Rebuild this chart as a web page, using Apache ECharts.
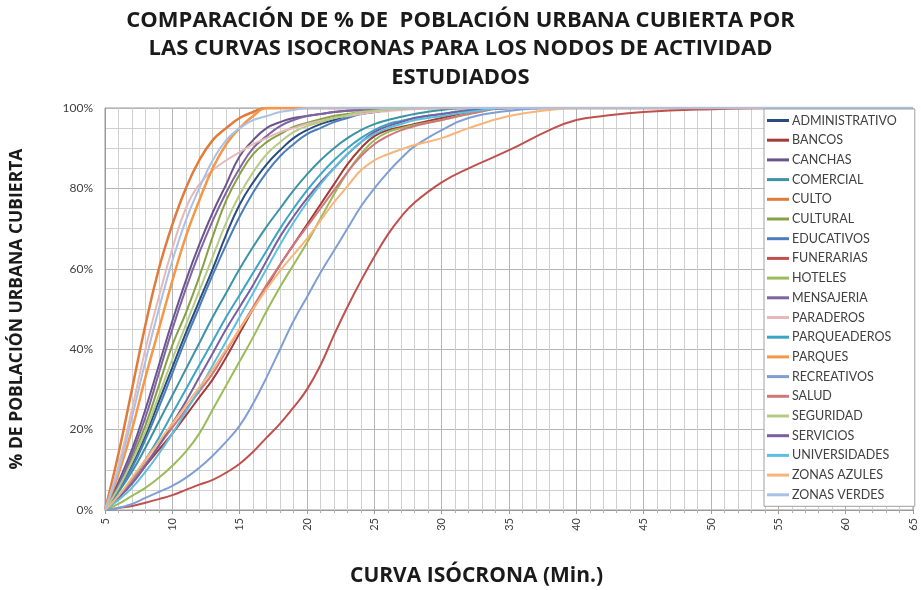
<!DOCTYPE html>
<html>
<head>
<meta charset="utf-8">
<script src="https://cdn.jsdelivr.net/npm/echarts@6/dist/echarts.min.js"></script>
<style>
  html, body { margin: 0; padding: 0; background: #fff; }
  #chart { width: 921px; height: 590px; }
</style>
</head>
<body>
<div id="chart"></div>
<script>
// minutos de la curva isócrona
var minutos = [5,6,7,8,9,10,11,12,13,14,15,16,17,18,19,20,21,22,23,24,25,26,27,28,
               30,32,35,38,40,42,45,50,55,60,65];

// % de población urbana cubierta (5..28, luego 30..65)
var administrativo = [0,5,11,18.5,27,35.5,44,52,60,68.5, 76,81.5,86,89.5,92.5,94.5,96,97,98,98.5, 99,99.5,99.8,100,
                      100,100,100,100,100,100,100,100,100,100,100];
var bancos = [0,3,7,11,15,19,23.5,28,32.5,38, 44,50,55.5,61,66,71,76,81,86,90, 93,94.5,95.3,96,
              97.5,99,100,100,100,100,100,100,100,100,100];
var canchas = [0,7,15,25,36,47,57,66,74,81, 88,92,95,96.5,97.5,98,98.5,99,99.3,99.5, 99.7,100,100,100,
               100,100,100,100,100,100,100,100,100,100,100];
var comercial = [0,4.5,9.5,15.5,22,28.5,35,41.5,48,54, 60,65.5,70.5,75,79.5,83.5,87,90,92.5,94.5, 96,97,97.8,98.5,
                 99.5,100,100,100,100,100,100,100,100,100,100];
var culto = [0,14,30,46,60,71,80,87,92,95, 97.5,99,100,100,100,100,100,100,100,100, 100,100,100,100,
             100,100,100,100,100,100,100,100,100,100,100];
var cultural = [0,6,13,21,31,41,49,58,68,77, 83.5,88.5,91.5,93.5,95.3,96.3,97.2,98,98.5,99, 99.3,99.6,99.8,100,
                100,100,100,100,100,100,100,100,100,100,100];
var educativos = [0,5,10.5,17.5,25.5,34,42.5,50.5,58.5,66, 73,79,84,88,91,93.5,95,96.5,97.5,98.5, 99,99.5,99.8,100,
                  100,100,100,100,100,100,100,100,100,100,100];
var funerarias = [0,0.5,1,1.8,2.7,3.7,5,6.3,7.5,9.3, 11.5,14.5,18,21.5,25.5,30,36,43.5,50.5,57, 63,68.5,73,76.5,
                  81.5,85,89.5,94.5,97,98,99,99.7,100,100,100];
var hoteles = [0,1.5,3.5,5.5,8,11,14.5,19,25,31, 37,43,49.5,55.5,61,66.5,72.5,78.5,84,88.5, 92,94,95,95.8,
               97,98.5,100,100,100,100,100,100,100,100,100];
var mensajeria = [0,6,14,23,34,45,55,64,72,79, 85,90,93,95.5,97,98,98.5,99,99.3,99.5, 99.7,100,100,100,
                  100,100,100,100,100,100,100,100,100,100,100];
var paraderos = [0,11,25,40,53,65,75,81,84.5,87, 89,91,92.5,94,95,96,96.8,97.5,98,98.5, 99,99.2,99.5,99.7,
                 100,100,100,100,100,100,100,100,100,100,100];
var parqueaderos = [0,3.5,7.5,12.5,18,24,30,36,42,48, 53.5,59,64.5,70,75,79.5,83.5,87,90,92.5, 94.5,96,96.8,97.5,
                    98.5,99.5,100,100,100,100,100,100,100,100,100];
var parques = [0,9,20,33,45,57,68,77,85,91, 95,98,100,100,100,100,100,100,100,100, 100,100,100,100,
               100,100,100,100,100,100,100,100,100,100,100];
var recreativos = [0,0.5,1.5,3,4.5,6,8,10.5,13.5,17, 21,26.5,33,40,47,53,59,64.5,70,75.5, 80,84,87.5,90.5,
                   94.5,97.5,99.3,100,100,100,100,100,100,100,100];
var salud = [0,3,7,11.5,16,20.5,25,29.5,34,39.5, 45,50.5,56,61,66,70.5,75,79.5,84,88, 91,93,94.5,95.5,
             97,98.5,100,100,100,100,100,100,100,100,100];
var seguridad = [0,5.5,12,19.5,28.5,37.5,46,54.5,63,71.5, 78.5,84,88.5,91.5,94,95.5,96.5,97.5,98.2,99, 99.3,99.6,99.8,100,
                 100,100,100,100,100,100,100,100,100,100,100];
var servicios = [0,3,6.5,11,16,21.5,27,33,39,45, 50.5,56,62,68,73,77.5,81.5,85,88.5,91.5, 94,95.5,96.5,97.5,
                 98.5,99.3,100,100,100,100,100,100,100,100,100];
var universidades = [0,2.5,5.5,9.5,14,19,24.5,30,36,42, 48,54,60,66,71.5,76.5,81,85,88.5,91.5, 93.5,95,96,97,
                     98,99,100,100,100,100,100,100,100,100,100];
var zonasAzules = [0,3.5,8,12.5,17,21.5,26,30.5,35,40, 45,50,55,59.5,63.5,67.5,72,76.5,80.5,84.5, 87,88.5,89.7,90.8,
                   92.5,95,98,99.5,100,100,100,100,100,100,100];
var zonasVerdes = [0,10,23,37,50,62,72,80,87,92, 95,97,98,99,99.5,100,100,100,100,100, 100,100,100,100,
                   100,100,100,100,100,100,100,100,100,100,100];

var nombres = ['ADMINISTRATIVO','BANCOS','CANCHAS','COMERCIAL','CULTO','CULTURAL','EDUCATIVOS',
  'FUNERARIAS','HOTELES','MENSAJERIA','PARADEROS','PARQUEADEROS','PARQUES','RECREATIVOS',
  'SALUD','SEGURIDAD','SERVICIOS','UNIVERSIDADES','ZONAS AZULES','ZONAS VERDES'];
var valores = [administrativo, bancos, canchas, comercial, culto, cultural, educativos,
  funerarias, hoteles, mensajeria, paraderos, parqueaderos, parques, recreativos,
  salud, seguridad, servicios, universidades, zonasAzules, zonasVerdes];
var colores = ['#2A4D7F','#A33B38','#6A548E','#3C93A6','#E07B39','#86A044','#4A7EBB',
  '#C0504D','#9BBB59','#8064A2','#E6B9B8','#3BA5C4','#F79646','#7F9FD3',
  '#D0777A','#B6CB83','#7A5FA0','#5BC0DE','#F9B47A','#A9C1E6'];

var fuente = 'Lato, "Liberation Sans", sans-serif';
var fuenteTitulo = '"Open Sans", Lato, sans-serif';

var series = nombres.map(function (n, i) {
  return {
    name: n,
    type: 'line',
    symbol: 'none',
    smooth: 0.45,
    lineStyle: { width: (n === 'CULTO' || n === 'PARQUES') ? 2.5 : 2 },
    data: minutos.map(function (m, j) { return [m, valores[i][j]]; })
  };
});

var chart = echarts.init(document.getElementById('chart'));
chart.setOption({
  animation: false,
  backgroundColor: '#fff',
  color: colores,
  title: {
    text: 'COMPARACIÓN DE % DE  POBLACIÓN URBANA CUBIERTA POR\nLAS CURVAS ISOCRONAS PARA LOS NODOS DE ACTIVIDAD\nESTUDIADOS',
    left: 'center',
    top: 1,
    textStyle: { fontFamily: fuenteTitulo, fontSize: 22, fontWeight: 'bold', color: '#1a1a1a', lineHeight: 28.5 }
  },
  grid: { left: 104, right: 8, top: 108, bottom: 80, show: true, borderColor: '#9a9a9a', borderWidth: 1 },
  legend: {
    orient: 'vertical',
    left: 764,
    top: 109,
    icon: 'rect',
    itemWidth: 22,
    itemHeight: 3,
    itemGap: 6.7,
    padding: [5, 18, 5, 3],
    backgroundColor: '#fff',
    borderColor: '#a0a0a0',
    borderWidth: 1,
    textStyle: { fontFamily: fuente, fontSize: 12.5, color: '#404040', padding: [0, 0, 0, -2] },
    data: nombres
  },
  xAxis: {
    type: 'value',
    min: 5,
    max: 65,
    interval: 5,
    axisLine: { lineStyle: { color: '#9a9a9a' } },
    axisTick: { show: true, length: 4, lineStyle: { color: '#9a9a9a' } },
    minorTick: { show: true, splitNumber: 5, length: 3, lineStyle: { color: '#b0b0b0' } },
    axisLabel: { rotate: 90, fontFamily: fuente, fontSize: 11, color: '#404040', margin: 8 },
    splitLine: { show: true, lineStyle: { color: '#b4b4b4' } },
    minorSplitLine: { show: true, lineStyle: { color: '#cfcfcf' } }
  },
  yAxis: {
    type: 'value',
    min: 0,
    max: 100,
    interval: 20,
    name: '% DE POBLACIÓN URBANA CUBIERTA',
    nameLocation: 'middle',
    nameRotate: 90,
    nameGap: 79,
    nameTextStyle: { fontFamily: fuenteTitulo, fontSize: 17.5, fontWeight: 'bold', color: '#1a1a1a' },
    axisLine: { show: true, lineStyle: { color: '#9a9a9a' } },
    axisTick: { show: false },
    axisLabel: { formatter: '{value}%', fontFamily: fuente, fontSize: 12, color: '#404040', margin: 12 },
    splitLine: { show: true, lineStyle: { color: '#b4b4b4' } },
    minorTick: { show: false, splitNumber: 4 },
    minorSplitLine: { show: true, lineStyle: { color: '#cfcfcf' } }
  },
  graphic: [{
    type: 'text',
    left: 350,
    top: 566,
    style: { text: 'CURVA ISÓCRONA (Min.)', fontFamily: fuenteTitulo, fontSize: 21, fontWeight: 'bold', fill: '#1a1a1a' }
  }],
  series: series
});
</script>
</body>
</html>
